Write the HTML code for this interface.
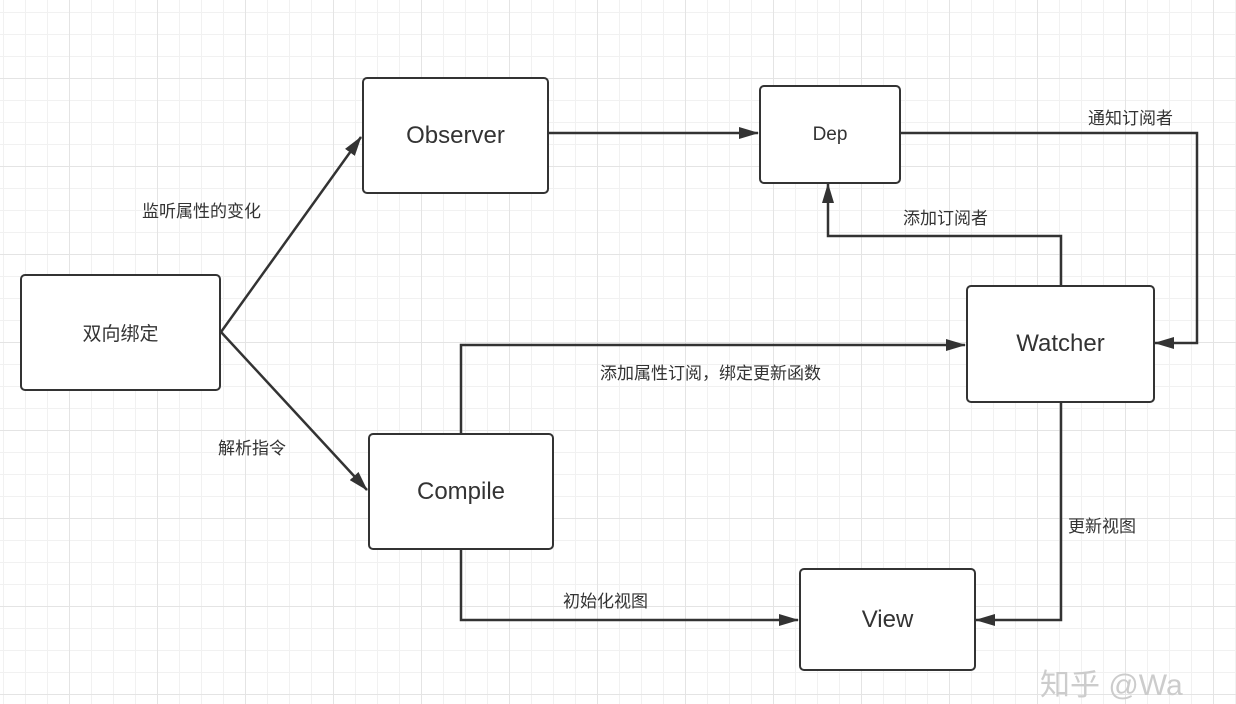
<!DOCTYPE html>
<html><head><meta charset="utf-8"><style>
html,body{margin:0;padding:0}
body{width:1236px;height:680px;overflow:hidden;background:#fff;position:relative;
font-family:"Liberation Sans","Noto Sans CJK SC",sans-serif;
background-image:
linear-gradient(#e4e4e4 1px,transparent 1px),linear-gradient(90deg,#e4e4e4 1px,transparent 1px),
linear-gradient(#f1f1f1 1px,transparent 1px),linear-gradient(90deg,#f1f1f1 1px,transparent 1px);
background-size:88px 88px,88px 88px,22px 22px,22px 22px;
background-position:0 -10px,-19px 0,0 -10px,-19px 0;}
.b{position:absolute;border:2px solid #333;border-radius:5px;background:#fff;box-sizing:border-box;
display:flex;align-items:center;justify-content:center;color:#333;font-size:24px}
.t{position:absolute;font-size:17px;color:#333;white-space:nowrap}
svg{position:absolute;left:0;top:0}
</style></head><body>
<svg width="1236" height="680">
<defs><marker id="a" markerWidth="10" markerHeight="8" refX="9" refY="4" orient="auto" markerUnits="userSpaceOnUse"><path d="M0,0 L10,4 L0,8 Z" fill="#333"/></marker>
<marker id="m" markerWidth="20" markerHeight="12" refX="19" refY="6" orient="auto" markerUnits="userSpaceOnUse"><path d="M0,0 L20,6 L0,12 Z" fill="#333"/></marker></defs>
<g stroke="#333" stroke-width="2.5" fill="none" marker-end="url(#m)">
<polyline points="221,332 361,137"/>
<polyline points="221,332 367,490"/>
<polyline points="548,133 758,133"/>
<polyline points="900,133 1197,133 1197,343 1155,343"/>
<polyline points="1061,285 1061,236 828,236 828,184"/>
<polyline points="461,433 461,345 965,345"/>
<polyline points="461,549 461,620 798,620"/>
<polyline points="1061,402 1061,620 976,620"/>
</g>
</svg>
<div class="b" style="left:362px;top:77px;width:187px;height:117px">Observer</div>
<div class="b" style="left:759px;top:85px;width:142px;height:99px;font-size:19px">Dep</div>
<div class="b" style="left:20px;top:274px;width:201px;height:117px;font-size:19px">双向绑定</div>
<div class="b" style="left:368px;top:433px;width:186px;height:117px">Compile</div>
<div class="b" style="left:966px;top:285px;width:189px;height:118px">Watcher</div>
<div class="b" style="left:799px;top:568px;width:177px;height:103px">View</div>
<div class="t" style="left:142px;top:197px">监听属性的变化</div>
<div class="t" style="left:218px;top:434px">解析指令</div>
<div class="t" style="left:1088px;top:104px">通知订阅者</div>
<div class="t" style="left:903px;top:204px">添加订阅者</div>
<div class="t" style="left:600px;top:359px">添加属性订阅，绑定更新函数</div>
<div class="t" style="left:1068px;top:512px">更新视图</div>
<div class="t" style="left:563px;top:587px">初始化视图</div>
<div class="t" style="left:1040px;top:660px;font-size:30px;color:#ccc">知乎 @Wa</div>
</body></html>
